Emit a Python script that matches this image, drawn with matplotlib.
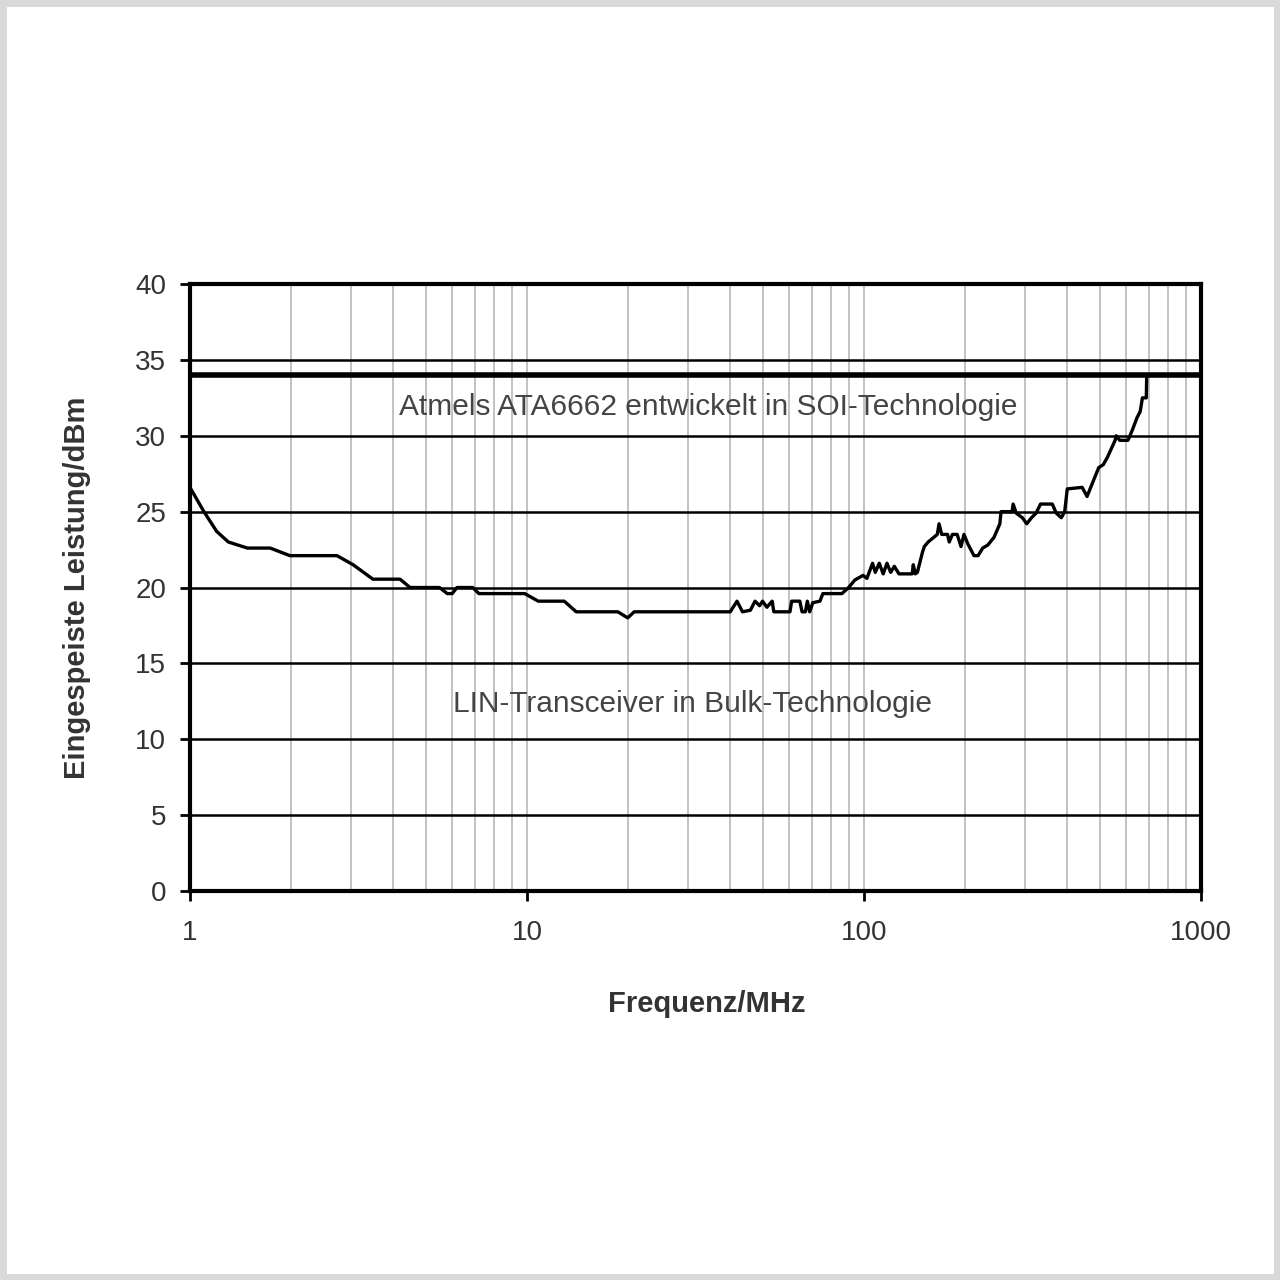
import numpy as np
import matplotlib
matplotlib.use("Agg")
import matplotlib.pyplot as plt
from matplotlib.ticker import FixedLocator, NullFormatter
from matplotlib.patches import Rectangle

plt.rcParams['font.family'] = ['Liberation Sans', 'DejaVu Sans']

# Messkurve LIN-Transceiver (Bulk)
freq = [1.0, 1.1, 1.2, 1.3, 1.48, 1.73, 1.98, 2.73, 3.05, 3.49, 4.2, 4.5, 5.5, 5.8,
        6.0, 6.2, 6.9, 7.2, 9.85, 10.8, 12.9, 14.0, 18.6, 19.9, 20.8, 40.1, 42.0,
        43.6, 46.0, 47.5, 49.0, 50.0, 51.5, 53.4, 54.0, 60.3, 61.0, 64.5, 65.5,
        67.0, 67.9, 69.0, 70.5, 74.0, 75.5, 86.0, 90.0, 94.0, 99.4, 102, 104, 106,
        108, 111, 114, 117, 120, 123, 127, 139, 140, 142, 144, 149, 151, 155, 165,
        167, 170, 177, 179, 183, 189, 194, 198, 203, 212, 218, 225, 233, 243, 253,
        255, 275, 277, 283, 295, 304, 314, 324, 334, 362, 372, 385, 394, 401, 444,
        459, 497, 513, 528, 556, 560, 574, 607, 626, 646, 660, 670, 688, 690]
power = [26.6, 25.0, 23.7, 23.0, 22.6, 22.6, 22.1, 22.1, 21.5, 20.55, 20.55, 20.0,
         20.0, 19.6, 19.6, 20.0, 20.0, 19.6, 19.6, 19.1, 19.1, 18.4, 18.4, 18.0,
         18.4, 18.4, 19.1, 18.4, 18.5, 19.1, 18.8, 19.1, 18.7, 19.1, 18.4, 18.4,
         19.1, 19.1, 18.4, 18.4, 19.1, 18.4, 19.0, 19.1, 19.6, 19.6, 20.0, 20.5,
         20.8, 20.6, 21.1, 21.6, 21.0, 21.6, 20.9, 21.6, 21.0, 21.4, 20.9, 20.9,
         21.5, 20.9, 21.0, 22.3, 22.7, 23.0, 23.5, 24.2, 23.5, 23.5, 23.0, 23.5,
         23.5, 22.7, 23.5, 22.9, 22.1, 22.1, 22.6, 22.8, 23.3, 24.2, 25.0, 25.0,
         25.5, 24.9, 24.6, 24.2, 24.6, 24.9, 25.5, 25.5, 24.9, 24.6, 25.0, 26.5,
         26.6, 26.0, 27.9, 28.1, 28.6, 29.7, 30.0, 29.7, 29.7, 30.4, 31.2, 31.6,
         32.5, 32.5, 34.0]

# Atmel ATA6662 (SOI): konstant ueber den ganzen Bereich
soi_level = 34

fig = plt.figure(figsize=(12.8, 12.8), dpi=100)
fig.patches.append(Rectangle((0.002, 0.002), 0.996, 0.996, transform=fig.transFigure,
                             fill=False, edgecolor='#d9d9d9', linewidth=5))
ax = fig.add_axes([0.1484, 0.3039, 0.7899, 0.4742])

ax.set_xscale('log')
ax.set_xlim(1, 1000)
ax.set_ylim(0, 40)

# Gitter
ax.xaxis.set_minor_locator(FixedLocator([m * 10**e for e in range(3) for m in range(2, 10)]))
ax.xaxis.set_minor_formatter(NullFormatter())
ax.set_xticks([1, 10, 100, 1000])
ax.set_xticklabels(['1', '10', '100', '1000'])
ax.set_yticks(np.arange(0, 41, 5))
ax.grid(axis='x', which='both', color='#b8b8b8', linewidth=1.2)
ax.grid(axis='y', which='major', color='black', linewidth=1.8)
ax.set_axisbelow(True)

ax.plot(freq, power, color='black', linewidth=2.4, zorder=3)
ax.axhline(soi_level, color='black', linewidth=4, zorder=3)

for s in ax.spines.values():
    s.set_linewidth(3)

ax.tick_params(axis='both', which='major', labelsize=20, colors='black',
               labelcolor='#333333', length=7, width=2, direction='out')
ax.tick_params(axis='x', which='major', pad=14)
ax.tick_params(axis='y', which='major', pad=10)
ax.tick_params(axis='x', which='minor', length=0)

ax.text(34.4, 31.9, 'Atmels ATA6662 entwickelt in SOI-Technologie', ha='center', va='center',
        fontsize=21.5, color='#444444')
ax.text(31.0, 12.3, 'LIN-Transceiver in Bulk-Technologie', ha='center', va='center',
        fontsize=21.5, color='#444444')

ax.set_xlabel('Frequenz/MHz', fontsize=21, fontweight='bold', color='#333333')
ax.xaxis.set_label_coords(0.511, -0.163)
ax.set_ylabel('Eingespeiste Leistung/dBm', fontsize=21, fontweight='bold', color='#333333',
              labelpad=32)

fig.savefig('out.png', dpi=100, facecolor='white')
